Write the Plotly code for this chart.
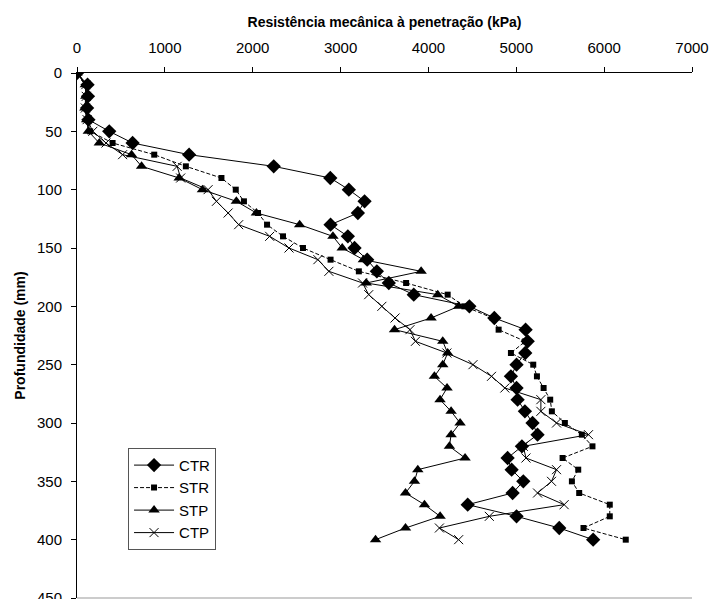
import plotly.graph_objects as go

depth = [0, 10, 20, 30, 40, 50, 60, 70, 80, 90, 100, 110, 120, 130, 140, 150, 160, 170, 180, 190,
         200, 210, 220, 230, 240, 250, 260, 270, 280, 290, 300, 310, 320, 330, 340, 350, 360, 370,
         380, 390, 400]

ctr = [0, 120, 125, 115, 130, 367, 633, 1276, 2239, 2883, 3094, 3273, 3197, 2886, 3083, 3159, 3303,
       3413, 3549, 3833, 4466, 4750, 5106, 5130, 5102, 5003, 4939, 5003, 5015, 5098, 5185, 5242,
       5064, 4901, 4947, 5080, 4958, 4447, 5003, 5489, 5875]

strv = [0, 110, 115, 105, 120, 150, 405, 879, 1239, 1644, 1807, 1900, 2060, 2163, 2345, 2572, 2886,
        3208, 3746, 4219, 4409, 4731, 4799, 5102, 4939, 5193, 5235, 5311, 5386, 5405, 5553, 5746,
        5867, 5527, 5705, 5633, 5716, 6064, 6064, 5765, 6246]

stp = [0, 95, 100, 90, 110, 129, 254, 621, 735, 1163, 1428, 1814, 2042, 2534, 2913, 3019, 3260,
       3917, 3292, 4106, 4344, 4030, 3614, 4163, 4219, 4163, 4068, 4212, 4132, 4258, 4360, 4258,
       4239, 4417, 3879, 3841, 3739, 3955, 4133, 3739, 3398]

ctp = [0, 100, 105, 95, 115, 180, 330, 519, 1140, 1180, 1492, 1587, 1720, 1840, 2193, 2413, 2742,
       2867, 3250, 3320, 3470, 3620, 3790, 3852, 4210, 4507, 4718, 4870, 5280, 5280, 5458, 5822,
       5080, 5110, 5458, 5401, 5242, 5545, 4693, 4125, 4344]

x_ticks = [0, 1000, 2000, 3000, 4000, 5000, 6000, 7000]
y_ticks = [0, 50, 100, 150, 200, 250, 300, 350, 400, 450]

fig = go.Figure()
fig.add_trace(go.Scatter(x=ctr, y=depth, name="CTR", mode="lines+markers",
                         line=dict(color="black", width=1),
                         marker=dict(symbol="diamond", size=11, color="black")))
fig.add_trace(go.Scatter(x=strv, y=depth, name="STR", mode="lines+markers",
                         line=dict(color="black", width=1, dash="4px,2px"),
                         marker=dict(symbol="square", size=6, color="black")))
fig.add_trace(go.Scatter(x=stp, y=depth, name="STP", mode="lines+markers",
                         line=dict(color="black", width=1),
                         marker=dict(symbol="triangle-up", size=10, color="black")))
fig.add_trace(go.Scatter(x=ctp, y=depth, name="CTP", mode="lines+markers",
                         line=dict(color="black", width=1),
                         marker=dict(symbol="x-thin-open", size=9, color="black",
                                     line=dict(color="black", width=1))))

fig.update_layout(
    width=710, height=599,
    margin=dict(l=77, r=18, t=73, b=1, autoexpand=False),
    paper_bgcolor="white", plot_bgcolor="white",
    font=dict(family="Liberation Sans, Arial, sans-serif", size=15, color="black"),
    showlegend=True,
    legend=dict(x=0.083, y=0.286, xanchor="left", yanchor="top",
                bgcolor="white", bordercolor="#555555", borderwidth=1,
                font=dict(size=15), itemwidth=40),
)
fig.update_xaxes(side="top", range=[0, 7000], tickvals=x_ticks, automargin=False,
                 showline=True, linecolor="black", linewidth=1,
                 ticks="outside", ticklen=5, tickcolor="black", ticklabelstandoff=8,
                 ticklabeloverflow="allow",
                 showgrid=False, zeroline=False, tickfont=dict(size=15),
                 title=dict(text="<b>Resistência mecânica à penetração (kPa)</b>",
                            font=dict(size=14), standoff=8))
fig.update_yaxes(range=[450, 0], tickvals=y_ticks, automargin=False,
                 showline=True, linecolor="black", linewidth=1, mirror=False,
                 ticks="outside", ticklen=5, tickcolor="black", ticklabelstandoff=6,
                 ticklabeloverflow="allow",
                 showgrid=False, zeroline=False, tickfont=dict(size=15),
                 title=dict(text="<b>Profundidade (mm)</b>", font=dict(size=14), standoff=8))
fig.add_shape(type="line", xref="paper", yref="paper", x0=0, x1=1, y0=0, y1=0,
              line=dict(color="#999999", width=1))

fig.write_html("out.html", config={"displayModeBar": False},
               post_script="document.body.style.margin='0';document.body.style.overflow='hidden';")
